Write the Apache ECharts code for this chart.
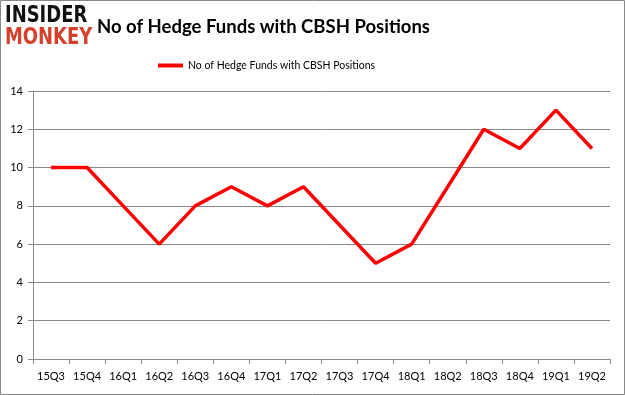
<!DOCTYPE html>
<html><head><meta charset="utf-8">
<script src="https://cdn.jsdelivr.net/npm/echarts@6/dist/echarts.min.js"></script>
<style>html,body{margin:0;padding:0;background:#fff}#c{width:625px;height:395px}</style>
</head><body><div id="c"></div>
<script>
const categories = ['15Q3','15Q4','16Q1','16Q2','16Q3','16Q4','17Q1','17Q2','17Q3','17Q4','18Q1','18Q2','18Q3','18Q4','19Q1','19Q2'];
const seriesName = 'No of Hedge Funds with CBSH Positions';
const values = [10,10,8,6,8,9,8,9,7,5,6,9,12,11,13,11];
const chart = echarts.init(document.getElementById('c'));
chart.setOption({
  animation: false,
  backgroundColor: '#fff',
  title: {
    text: 'No of Hedge Funds with CBSH Positions',
    left: 92, top: 13,
    textStyle: {fontFamily: 'Lato', fontWeight: 'bold', fontSize: 18.5, color: '#000'}
  },
  graphic: [
    {type: 'rect', shape: {x: 0.5, y: 0.5, width: 624, height: 394}, style: {fill: 'none', stroke: '#888', lineWidth: 1}},
    {type: 'text', x: 5, y: 5, scaleX: 0.78, style: {text: 'INSIDER', fontFamily: 'DejaVu Sans', fontWeight: 'bold', fontSize: 23, fill: '#111'}},
    {type: 'text', x: 5, y: 27, scaleX: 0.78, style: {text: 'MONKEY', fontFamily: 'DejaVu Sans', fontWeight: 'bold', fontSize: 23, fill: '#d4402c'}}
  ],
  legend: {
    data: [seriesName], top: 55, left: 153,
    itemWidth: 25, itemHeight: 4, icon: 'rect',
    textStyle: {fontFamily: 'Lato', fontSize: 10.5, color: '#000'}
  },
  grid: {left: 33, right: 15, top: 91, bottom: 36},
  xAxis: {
    type: 'category', data: categories, boundaryGap: true,
    axisLine: {lineStyle: {color: '#888'}},
    axisTick: {show: true, length: 5, lineStyle: {color: '#888'}, alignWithLabel: false},
    axisLabel: {interval: 0, color: '#000', fontFamily: 'Lato', fontSize: 11, margin: 12}
  },
  yAxis: {
    type: 'value', min: 0, max: 14, interval: 2,
    axisLine: {show: true, lineStyle: {color: '#888'}},
    axisTick: {show: true, length: 5, lineStyle: {color: '#888'}},
    splitLine: {lineStyle: {color: '#888'}},
    axisLabel: {color: '#000', fontFamily: 'Lato', fontSize: 11, margin: 10}
  },
  series: [{
    name: seriesName, type: 'line', data: values,
    symbol: 'none', lineStyle: {color: '#ff0000', width: 3.5},
    itemStyle: {color: '#ff0000'}
  }]
});
</script></body></html>
